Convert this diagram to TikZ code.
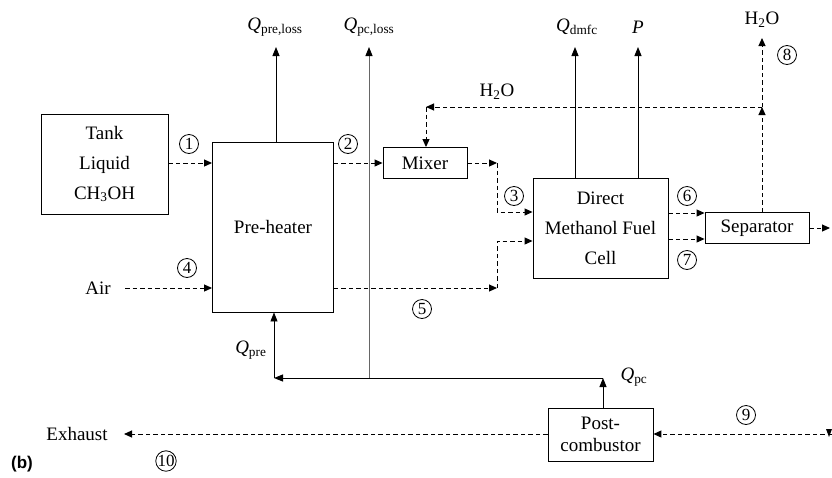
\documentclass[tikz,border=0pt]{standalone}
\usepackage{fontspec}
\setmainfont{Liberation Serif}
\newfontfamily\labfont{Liberation Sans}
\usetikzlibrary{arrows.meta,calc}
\begin{document}
\begin{tikzpicture}[x=1pt,y=-1pt,
  txt/.style={font=\fontsize{19}{22}\selectfont},
  box/.style={draw,line width=0.9pt,inner sep=0pt,align=center,txt},
  flow/.style={line width=1pt,dash pattern=on 4.5pt off 3pt,-{Triangle[length=8pt,width=7pt]}},
  heat/.style={line width=0.9pt,-{Triangle[length=9pt,width=7pt]}},
  num/.style={draw,circle,line width=0.8pt,inner sep=0pt,minimum size=19pt,font=\fontsize{17}{17}\selectfont}]
\useasboundingbox (0,0) rectangle (832,477);
\fill[white] (0,0) rectangle (832,477);

% boxes
\node[box,minimum width=127pt,minimum height=100pt] (tank) at (104.5,164)
  {Tank\\[8pt]Liquid\\[8pt]CH\textsubscript{3}OH};
\node[box,minimum width=121pt,minimum height=170pt] (pre) at (273,227) {Pre-heater};
\node[box,minimum width=84pt,minimum height=31pt] (mix) at (425,163) {Mixer};
\node[box,minimum width=135pt,minimum height=100pt] (fc) at (600.5,228)
  {Direct\\[8pt]Methanol Fuel\\[8pt]Cell};
\node[box,minimum width=104pt,minimum height=31pt] (sep) at (757,228) {Separator};
\node[box,minimum width=105pt,minimum height=53pt,font=\fontsize{19}{22}\selectfont] (post) at (600.5,434.5)
  {Post-\\combustor};

% labels
\node[txt] (qpl) at (275,27) {\textit{Q}\textsubscript{pre,loss}};
\node[txt] (qpcl) at (369,27) {\textit{Q}\textsubscript{pc,loss}};
\node[txt] (qd) at (577,27) {\textit{Q}\textsubscript{dmfc}};
\node[txt] (pw) at (638,27) {\textit{P}};
\node[txt] (h2otop) at (762,20) {H\textsubscript{2}O};
\node[txt] (h2omid) at (497,92) {H\textsubscript{2}O};
\node[txt] (air) at (98,288) {Air};
\node[txt] (exh) at (77,434) {Exhaust};
\node[txt,anchor=east] (qpre) at (270,350) {\textit{Q}\textsubscript{pre}};
\node[txt,anchor=west] (qpc) at (617,377) {\textit{Q}\textsubscript{pc}};
\node[font=\labfont\bfseries\fontsize{17}{17}\selectfont] (b) at (22,464) {(b)};

% circled numbers
\node[num] (n1) at (189,144) {1};
\node[num] (n2) at (348,144) {2};
\node[num] (n3) at (514,196) {3};
\node[num] (n4) at (187,268) {4};
\node[num] (n5) at (422,309) {5};
\node[num] (n6) at (687,196) {6};
\node[num] (n7) at (687,260) {7};
\node[num] (n8) at (787,55) {8};
\node[num] (n9) at (746,415) {9};
\node[num] (n10) at (166,461) {10};

% coordinates
\coordinate (qpltip) at (276,47);
\coordinate (qpcltip) at (369,47);
\coordinate (qdtip) at (575,47);
\coordinate (pwtip) at (638,47);
\coordinate (j3a) at (497,163);
\coordinate (j3b) at (497,212);
\coordinate (j5a) at (497,288);
\coordinate (j5b) at (497,241);
\coordinate (wj) at (762,107);
\coordinate (wl) at (426,107);
\coordinate (h2otip) at (762,38);
\coordinate (airst) at (125,288);
\coordinate (sepout) at (830,228);
\coordinate (hq) at (603,378);
\coordinate (hl) at (274,378);
\coordinate (lossbot) at (369,378);
\coordinate (in9) at (832,434);
\coordinate (exhtip) at (124,434);

% heat / power lines
\draw[heat] (pre.north -| qpltip) -- (qpltip);
\draw[line width=0.9pt,gray!80!black,-{Triangle[length=9pt,width=7pt,black]}] (lossbot) -- (qpcltip);
\draw[heat] (fc.north -| qdtip) -- (qdtip);
\draw[heat] (fc.north -| pwtip) -- (pwtip);
\draw[heat] (post.north -| hq) -- (hq);
\draw[heat] (hq) -- (hl);
\draw[heat] (hl) -- (pre.south -| hl);

% material flows
\draw[flow] (tank.east |- 0,163) -- (pre.west |- 0,163);
\draw[flow] (pre.east |- 0,163) -- (mix.west);
\draw[flow] (mix.east) -- (j3a);
\draw[flow] (j3a) -- (j3b) -- (fc.west |- j3b);
\draw[flow] (airst) -- (pre.west |- airst);
\draw[flow] (pre.east |- j5a) -- (j5a);
\draw[flow] (j5a) -- (j5b) -- (fc.west |- j5b);
\draw[flow] (fc.east |- 0,213) -- (sep.west |- 0,213);
\draw[flow] (fc.east |- 0,239) -- (sep.west |- 0,239);
\draw[flow] (sep.east) -- (sepout);
\draw[flow] (sep.north -| wj) -- (wj);
\draw[flow] (wj) -- (h2otip);
\draw[flow] (wj) -- (wl);
\draw[flow] (wl) -- (mix.north -| wl);
\draw[flow] (in9) -- (post.east |- in9);
\draw[flow] (post.west |- in9) -- (exhtip);
\fill (826,429) -- (832,429) -- (829,437) -- cycle;
\end{tikzpicture}
\end{document}
